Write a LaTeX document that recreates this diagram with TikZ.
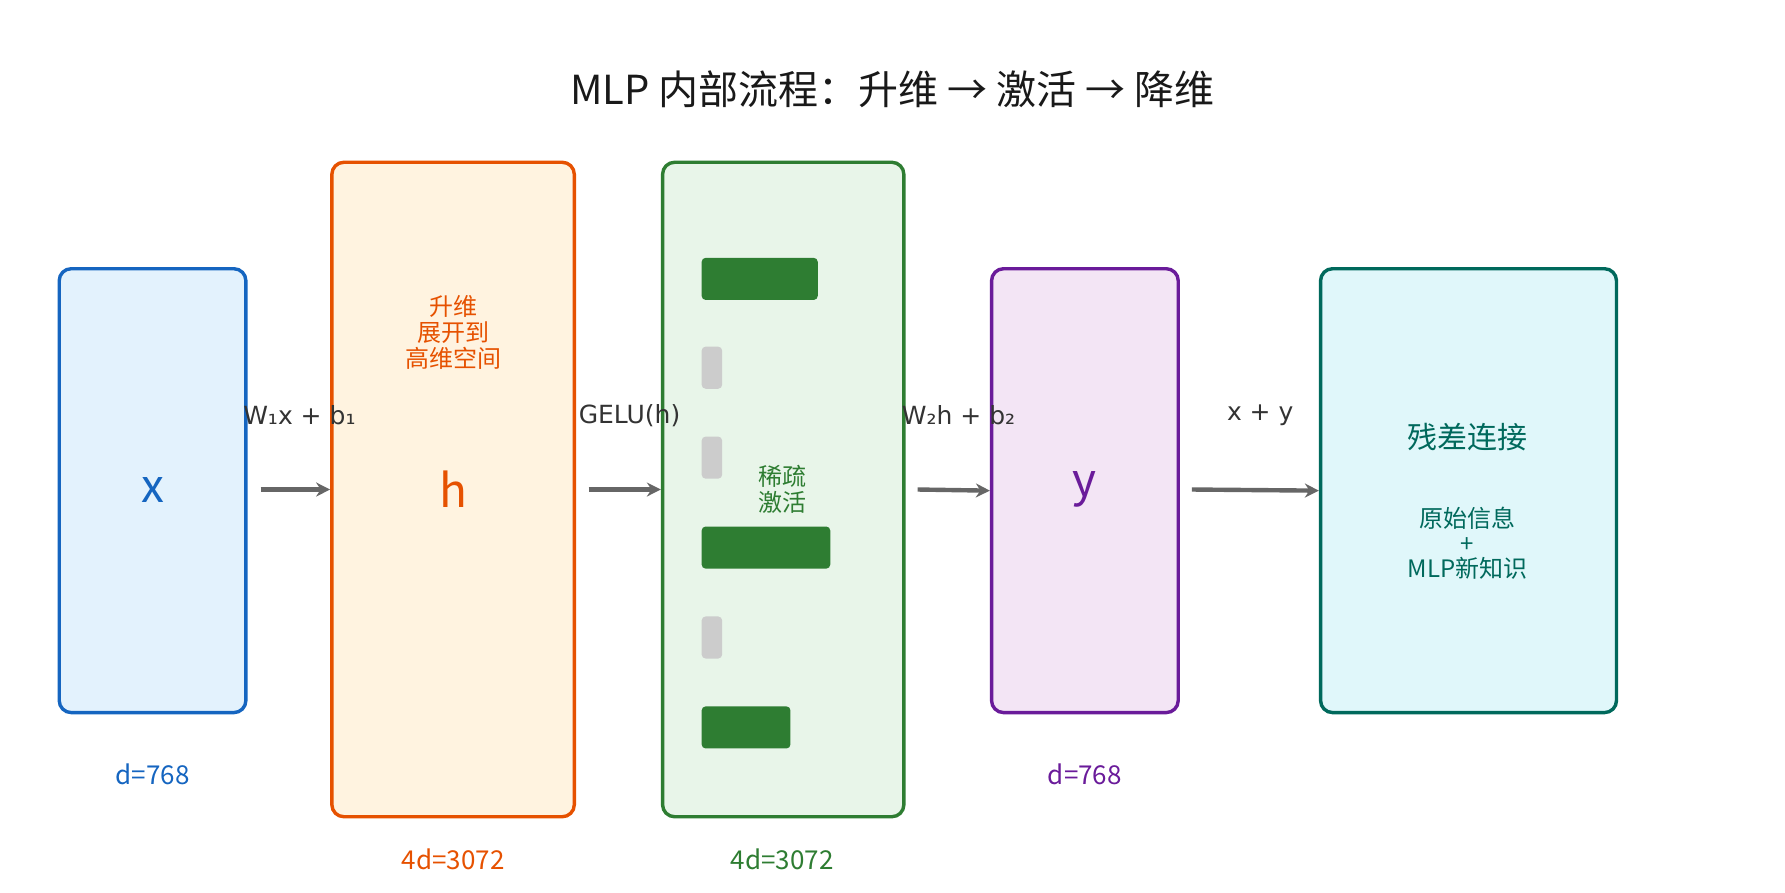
\documentclass[tikz,border=0pt]{standalone}
\usepackage{fontspec}
\setmainfont{Noto Sans CJK SC}
\newfontfamily\dvs{DejaVu Sans}
\usetikzlibrary{positioning, arrows.meta}
\definecolor{cblue}{HTML}{1565C0}\definecolor{fblue}{HTML}{E3F2FD}
\definecolor{corange}{HTML}{E65100}\definecolor{forange}{HTML}{FFF3E0}
\definecolor{cgreen}{HTML}{2E7D32}\definecolor{fgreen}{HTML}{E8F5E9}
\definecolor{cpurple}{HTML}{6A1B9A}\definecolor{fpurple}{HTML}{F3E5F5}
\definecolor{cteal}{HTML}{00695C}\definecolor{fteal}{HTML}{E0F7FA}
\definecolor{carrow}{HTML}{666666}\definecolor{cbar}{HTML}{CCCCCC}
\begin{document}
\begin{tikzpicture}[x=0.02cm, y=-0.02cm]
\tikzstyle{box}=[rectangle,rounded corners=6pt,line width=1.7pt,inner sep=0pt]
\tikzstyle{bar}=[rectangle,rounded corners=2pt,inner sep=0pt,anchor=west,minimum height=0.74cm]
\tikzstyle{flow}=[-{Stealth[length=7pt,width=7pt]},line width=2.2pt,draw=carrow]
\tikzstyle{lbl}=[font=\dvs\fontsize{12.5}{14}\selectfont,text=black!80]
\useasboundingbox (0,0) rectangle (1568,784);
\node[font=\fontsize{20}{24}\selectfont,text=black!90] (title) at (784,78) {MLP 内部流程：升维 → 激活 → 降维};
% boxes
\node[box,draw=cblue,fill=fblue,minimum width=3.28cm,minimum height=7.8cm] (x) at (134,431) {};
\node[box,draw=corange,fill=forange,minimum width=4.26cm,minimum height=11.5cm] (h) at (398,430) {};
\node[box,draw=cgreen,fill=fgreen,minimum width=4.24cm,minimum height=11.5cm] (g) at (688,430) {};
\node[box,draw=cpurple,fill=fpurple,minimum width=3.28cm,minimum height=7.8cm] (y) at (953,431) {};
\node[box,draw=cteal,fill=fteal,minimum width=5.2cm,minimum height=7.8cm] (r) at (1290,431) {};
% texts in boxes
\node[text=cblue,font=\fontsize{23}{26}\selectfont] (xt) at (134,430) {x};
\node[text=corange,font=\fontsize{23}{26}\selectfont] (ht) at (398,430) {h};
\node[text=cpurple,font=\fontsize{23}{26}\selectfont] (yt) at (953,430) {y};
\node[text=corange,font=\fontsize{12}{13}\selectfont,align=center] (hnote) at (398,292) {升维\\展开到\\高维空间};
\node[text=cgreen,font=\fontsize{12}{13}\selectfont,align=center] (gnote) at (687,430) {稀疏\\激活};
\node[text=cteal,font=\fontsize{15}{18}\selectfont] (rt) at (1289,384) {残差连接};
\node[text=cteal,font=\fontsize{12}{12.5}\selectfont,align=center] (rnote) at (1289,477) {原始信息\\+\\MLP新知识};
% activation bars
\node[bar,fill=cgreen,minimum width=2.04cm] (b1) at (616,245) {};
\node[bar,fill=cbar,minimum width=0.36cm] (b2) at (616,323) {};
\node[bar,fill=cbar,minimum width=0.36cm] (b3) at (616,402) {};
\node[bar,fill=cgreen,minimum width=2.26cm] (b4) at (616,481) {};
\node[bar,fill=cbar,minimum width=0.36cm] (b5) at (616,560) {};
\node[bar,fill=cgreen,minimum width=1.56cm] (b6) at (616,639) {};
% dims
\node[text=cblue,font=\fontsize{13}{16}\selectfont] (dx) at (134,680) {d=768};
\node[text=cpurple,font=\fontsize{13}{16}\selectfont] (dy) at (953,680) {d=768};
\node[text=corange,font=\fontsize{13}{16}\selectfont] (dh) at (398,755) {4d=3072};
\node[text=cgreen,font=\fontsize{13}{16}\selectfont] (dg) at (687,755) {4d=3072};
% arrows
\coordinate (a1) at (229,430); \coordinate (a2) at (517,430);
\coordinate (a3) at (806,430); \coordinate (a4) at (1047,430);
\draw[flow] (a1) -- (h.west);
\draw[flow] (a2) -- (g.west);
\draw[flow] (a3) -- (y.west);
\draw[flow] (a4) -- (r.west);
\node[lbl] (l1) at (263,365) {W₁x + b₁};
\node[lbl] (l2) at (553,365) {GELU(h)};
\node[lbl] (l3) at (842,365) {W₂h + b₂};
\node[lbl] (l4) at (1107,365) {x + y};
\end{tikzpicture}
\end{document}
